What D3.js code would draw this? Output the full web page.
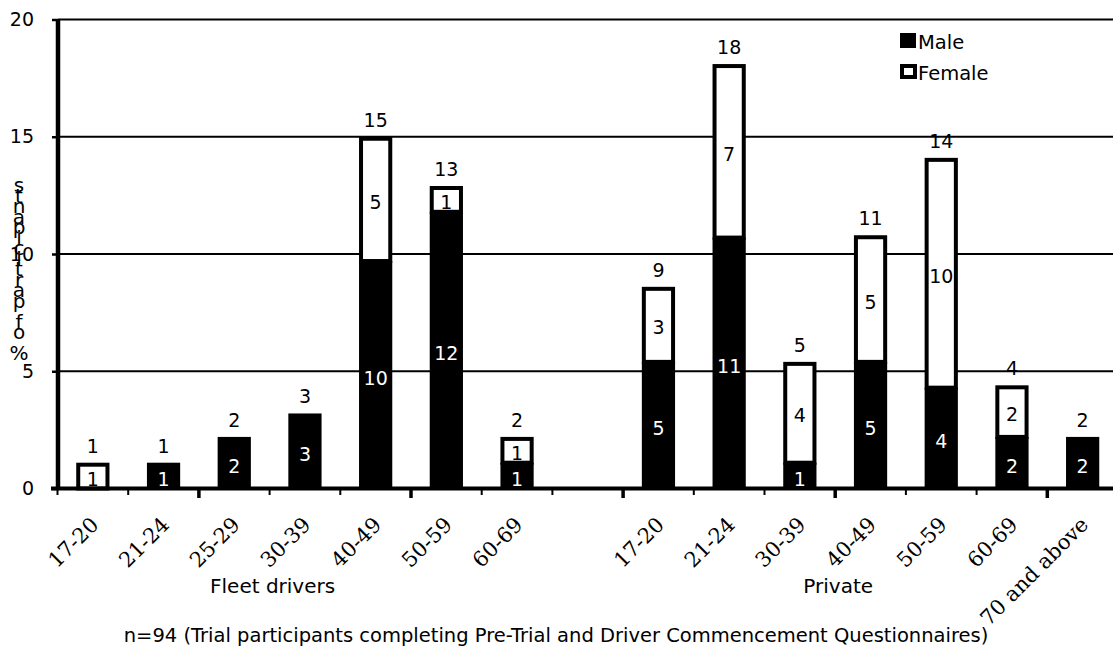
<!DOCTYPE html>
<html>
<head>
<meta charset="utf-8">
<script src="https://cdn.jsdelivr.net/npm/d3@7"></script>
<style>
    body { margin: 0; background: #fff; }
    svg text { font-family: "DejaVu Sans", Verdana, sans-serif; fill: #000; }
</style>
</head>
<body>
<div id="myfigure"></div>
<script>
// age bands in each group
var fleetAges = ["17-20", "21-24", "25-29", "30-39", "40-49", "50-59", "60-69"];
var privateAges = ["17-20", "21-24", "30-39", "40-49", "50-59", "60-69", "70 and above"];

// % of participants
var fleetMale = [0, 1.1, 2.2, 3.2, 9.7, 11.8, 1.1];
var fleetFemale = [1.1, 0, 0, 0, 5.3, 1.1, 1.1];
var privateMale = [5.4, 10.7, 1.1, 5.4, 4.3, 2.2, 2.2];
var privateFemale = [3.2, 7.4, 4.3, 5.4, 9.8, 2.2, 0];

var groupNames = ["Fleet drivers", "Private"];
var seriesNames = ["Male", "Female"];
var yTicks = [0, 5, 10, 15, 20];
var yTitle = "% of participants";
var footnote = "n=94 (Trial participants completing Pre-Trial and Driver Commencement Questionnaires)";

var width = 1113, height = 647;

// one slot per bar, with an empty slot between the groups
var rows = [];
fleetAges.forEach(function(a, i) {
    rows.push({ key: "F" + i, age: a, male: fleetMale[i], female: fleetFemale[i] });
});
rows.push({ key: "gap", age: "", male: 0, female: 0 });
privateAges.forEach(function(a, i) {
    rows.push({ key: "P" + i, age: a, male: privateMale[i], female: privateFemale[i] });
});

var xScale = d3.scaleBand().domain(rows.map(function(d) { return d.key; })).range([57.5, 1118]);
var yScale = d3.scaleLinear().domain([0, 20]).range([488.5, 19.5]);
var barW = xScale.bandwidth() * 0.47;
var cx = function(d) { return xScale(d.key) + xScale.bandwidth() / 2; };

var svg = d3.select("#myfigure").append("svg")
    .attr("width", width)
    .attr("height", height);

// gridlines
svg.append("g").selectAll("line")
    .data(yTicks.filter(function(t) { return t > 0; }))
    .enter().append("line")
    .attr("x1", 58).attr("x2", width)
    .attr("y1", function(d) { return yScale(d); })
    .attr("y2", function(d) { return yScale(d); })
    .attr("stroke", "#000").attr("stroke-width", 2);

// y axis
var yAxis = d3.axisLeft(yScale).tickValues(yTicks).tickSize(6).tickPadding(18);
var yg = svg.append("g").attr("transform", "translate(58,0)").call(yAxis);
yg.select(".domain").remove();
yg.selectAll(".tick line").attr("stroke", "#000").attr("stroke-width", 2.5);
yg.selectAll(".tick text").attr("font-size", 19).attr("font-family", "DejaVu Sans");

// bars
var bars = svg.append("g").selectAll("g")
    .data(rows.filter(function(d) { return d.male + d.female > 0; }))
    .enter().append("g");

bars.filter(function(d) { return d.male > 0; }).append("rect")
    .attr("x", function(d) { return cx(d) - barW / 2; })
    .attr("width", barW)
    .attr("y", function(d) { return yScale(d.male); })
    .attr("height", function(d) { return yScale(0) - yScale(d.male); })
    .attr("fill", "#000");

var sw = 4;
bars.filter(function(d) { return d.female > 0; }).append("rect")
    .attr("x", function(d) { return cx(d) - barW / 2 + sw / 2; })
    .attr("width", barW - sw)
    .attr("y", function(d) { return yScale(d.male + d.female) + sw / 2; })
    .attr("height", function(d) { return yScale(d.male) - yScale(d.male + d.female) - sw / 2; })
    .attr("fill", "#fff")
    .attr("stroke", "#000")
    .attr("stroke-width", sw);

// segment labels
bars.filter(function(d) { return d.male > 0; }).append("text")
    .attr("x", cx)
    .attr("y", function(d) { return (yScale(0) + yScale(d.male)) / 2 + 10; })
    .attr("text-anchor", "middle").attr("font-size", 19)
    .style("fill", "#fff")
    .text(function(d) { return Math.round(d.male); });

bars.filter(function(d) { return d.female > 0; }).append("text")
    .attr("x", cx)
    .attr("y", function(d) { return (yScale(d.male) + yScale(d.male + d.female)) / 2 + 10; })
    .attr("text-anchor", "middle").attr("font-size", 19)
    .text(function(d) { return Math.round(d.female); });

// totals
bars.append("text")
    .attr("x", cx)
    .attr("y", function(d) { return yScale(d.male + d.female) - 10; })
    .attr("text-anchor", "middle").attr("font-size", 19)
    .text(function(d) { return Math.round(d.male + d.female); });

// y axis line and x axis
svg.append("line").attr("x1", 58).attr("x2", 58).attr("y1", 19).attr("y2", 489)
    .attr("stroke", "#000").attr("stroke-width", 4.5);
svg.append("line").attr("x1", 51).attr("x2", width).attr("y1", 488.5).attr("y2", 488.5)
    .attr("stroke", "#000").attr("stroke-width", 4);

// ticks at slot boundaries
var bounds = rows.map(function(d) { return xScale(d.key); });
svg.append("g").selectAll("line")
    .data(bounds)
    .enter().append("line")
    .attr("x1", function(d) { return d; }).attr("x2", function(d) { return d; })
    .attr("y1", 488).attr("y2", function(d, i) { return i % 3 == 2 ? 498 : 495; })
    .attr("stroke", "#000")
    .attr("stroke-width", function(d, i) { return i % 3 == 2 ? 3.5 : 2; });

// age labels
svg.append("g").selectAll("text")
    .data(rows.filter(function(d) { return d.age != ""; }))
    .enter().append("text")
    .attr("transform", function(d) { return "translate(" + (cx(d) + 7) + ",526) rotate(-45)"; })
    .attr("text-anchor", "end")
    .attr("font-size", 21)
    .style("font-family", "'DejaVu Serif', serif")
    .text(function(d) { return d.age; });

// group labels
svg.append("g").selectAll("text")
    .data(groupNames)
    .enter().append("text")
    .attr("x", function(d, i) { return xScale(i == 0 ? "F3" : "P3") + 3; })
    .attr("y", 593)
    .attr("text-anchor", "middle")
    .attr("font-size", 20)
    .text(function(d) { return d; });

// y title: upright characters stacked bottom to top
var chars = yTitle.split("");
svg.append("g").selectAll("text")
    .data(chars)
    .enter().append("text")
    .attr("x", 19)
    .attr("y", function(d, i) { return 360 - i * 10.5; })
    .attr("text-anchor", "middle")
    .attr("font-size", 20)
    .text(function(d) { return d; });

// legend
var legend = svg.append("g").selectAll("g")
    .data(seriesNames)
    .enter().append("g")
    .attr("transform", function(d, i) { return "translate(900," + (33 + i * 31) + ")"; });
legend.append("rect")
    .attr("x", function(d, i) { return i ? 2 : 0; })
    .attr("y", function(d, i) { return i ? 2 : 0; })
    .attr("width", function(d, i) { return i ? 13 : 16; })
    .attr("height", function(d, i) { return i ? 11 : 15; })
    .attr("fill", function(d, i) { return i ? "#fff" : "#000"; })
    .attr("stroke", "#000")
    .attr("stroke-width", function(d, i) { return i ? 4 : 0; });
legend.append("text")
    .attr("x", 18).attr("y", 16)
    .attr("font-size", 19.5)
    .text(function(d) { return d; });

// footnote
svg.append("text")
    .attr("x", 556).attr("y", 642)
    .attr("text-anchor", "middle")
    .attr("font-size", 19.5)
    .text(footnote);
</script>
</body>
</html>
